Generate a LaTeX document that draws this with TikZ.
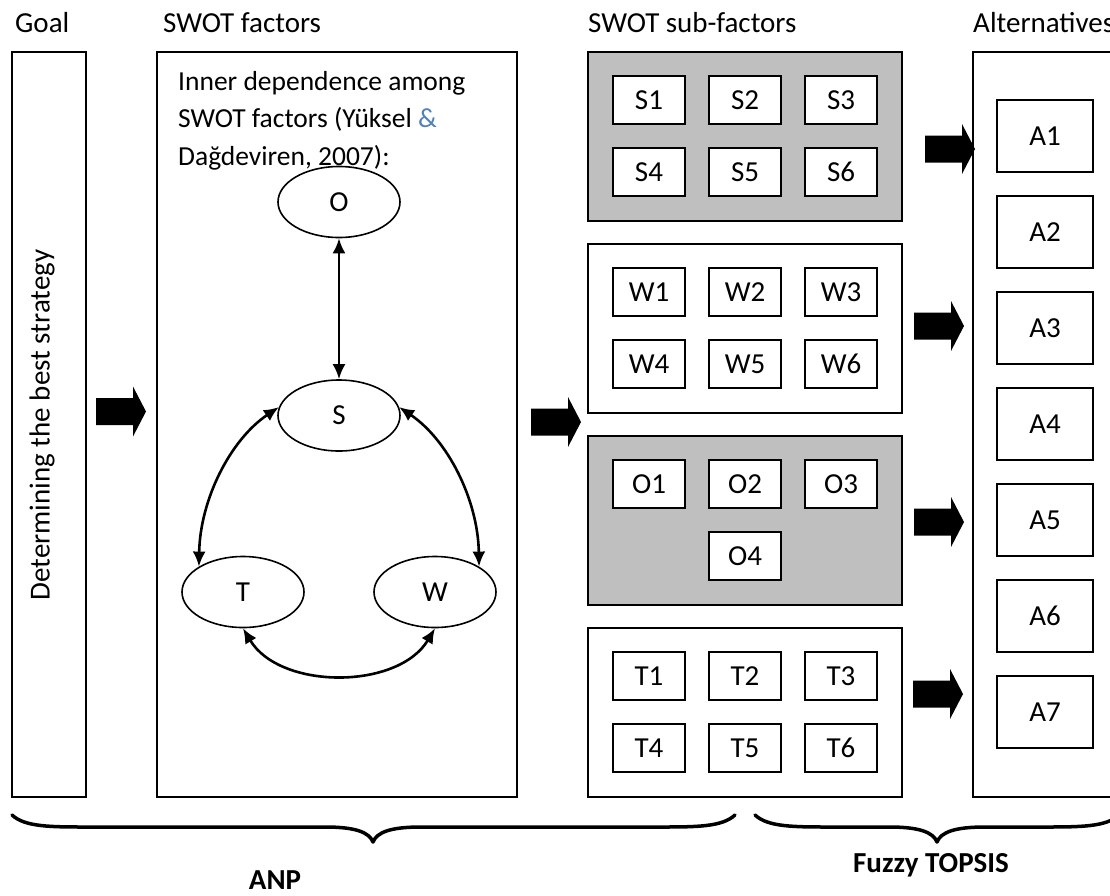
\documentclass[tikz,border=0pt]{standalone}
\usepackage{fontspec}
\setmainfont{Carlito}
\usetikzlibrary{arrows.meta,shapes.geometric}
\definecolor{panelgrey}{RGB}{191,191,191}
\definecolor{citeblue}{RGB}{79,129,189}

\tikzset{
  blockarrow/.pic={\fill (0,-13.5) -- (37,-13.5) -- (37,-25) -- (50,0) -- (37,25) -- (37,13.5) -- (0,13.5) -- cycle;}
}

\begin{document}
\begin{tikzpicture}[x=1pt,y=-1pt,
  every node/.style={font=\fontsize{29}{37.5}\selectfont, inner sep=0pt},
  frame/.style={draw, line width=1.5pt, minimum height=745pt},
  panel/.style={draw, line width=1.5pt, minimum width=314pt, minimum height=169pt},
  item/.style={draw, fill=white, line width=1.5pt, minimum width=72pt, minimum height=48pt},
  altbox/.style={draw, fill=white, line width=1.5pt, minimum width=96pt, minimum height=72pt},
  factor/.style={draw, ellipse, line width=1.6pt, minimum width=122pt, minimum height=71pt},
  link/.style={line width=2.6pt, {Latex[length=15pt,width=13pt]}-{Latex[length=15pt,width=13pt]}},
  heading/.style={anchor=base west},
  brace/.style={line width=3.5pt, line cap=round, line join=round},
  method/.style={font=\fontsize{29}{30}\selectfont\bfseries, anchor=base}
]
\useasboundingbox (0,0) rectangle (1110,895);
\clip (0,0) rectangle (1110,895);

% column headings
\node[heading] (hgoal) at (15,32) {Goal};
\node[heading] (hfactors) at (163,32) {SWOT factors};
\node[heading] (hsub) at (588,32) {SWOT sub-factors};
\node[heading] (halt) at (973,32) {Alternatives};

% goal column
\node[frame, minimum width=74pt] (goal) at (49,424.5) {};
\node[rotate=90] (goaltext) at (42,425) {Determining the best strategy};

% SWOT factors column
\node[frame, minimum width=360pt] (factors) at (337,424.5) {};
\node[anchor=base west, align=left, font=\fontsize{27.5}{37.5}\selectfont] (note) at (178,165)
  {Inner dependence among\\SWOT factors (Yüksel \textcolor{citeblue}{\&}\\Dağdeviren, 2007):};

\node[factor] (O) at (339,202) {O};
\node[factor] (S) at (339,415.5) {S};
\node[factor] (T) at (243,592) {T};
\node[factor] (W) at (435,592) {W};

\draw[link] (O.south) -- (S.north);
\draw[link] (S.172) .. controls (230,440) and (200,500) .. (T.150);
\draw[link] (S.8) .. controls (448,440) and (478,500) .. (W.30);
\draw[link] (T.270) .. controls (280,690) and (398,690) .. (W.270);

% SWOT sub-factor panels
\node[panel, fill=panelgrey] (gS) at (745,136.5) {};
\node[panel, fill=white] (gW) at (745,328.5) {};
\node[panel, fill=panelgrey] (gO) at (745,520.5) {};
\node[panel, fill=white] (gT) at (745,712.5) {};

\foreach \k/\x/\y in {1/649/100,2/745/100,3/841/100,4/649/172,5/745/172,6/841/172}
  \node[item] (S\k) at (\x,\y) {S\k};
\foreach \k/\x/\y in {1/649/292,2/745/292,3/841/292,4/649/364,5/745/364,6/841/364}
  \node[item] (W\k) at (\x,\y) {W\k};
\foreach \k/\x/\y in {1/649/484,2/745/484,3/841/484,4/745/556}
  \node[item] (O\k) at (\x,\y) {O\k};
\foreach \k/\x/\y in {1/649/676,2/745/676,3/841/676,4/649/748,5/745/748,6/841/748}
  \node[item] (T\k) at (\x,\y) {T\k};

% alternatives column
\node[frame, minimum width=152pt] (alts) at (1049,424.5) {};
\foreach \k/\y in {1/136,2/232,3/328,4/424,5/520,6/616,7/712}
  \node[altbox] (A\k) at (1045,\y) {A\k};

% flow arrows
\pic at (96,411.5) {blockarrow};
\pic at (531,422) {blockarrow};
\pic at (925,149) {blockarrow};
\pic at (914,326) {blockarrow};
\pic at (914,522) {blockarrow};
\pic at (913,694) {blockarrow};

% method braces
\draw[brace] (12,815) .. controls (25,827) and (50,827) .. (90,827) -- (325,827)
  .. controls (355,827) and (369,832) .. (373,842)
  .. controls (377,832) and (391,827) .. (421,827) -- (657,827)
  .. controls (697,827) and (722,827) .. (735,815);
\draw[brace] (755,815) .. controls (768,827) and (793,827) .. (833,827) -- (889,827)
  .. controls (919,827) and (933,832) .. (937,842)
  .. controls (941,832) and (955,827) .. (985,827) -- (1041,827)
  .. controls (1081,827) and (1106,827) .. (1119,815);

\node[method] (anp) at (275,889) {ANP};
\node[method] (topsis) at (931,872) {Fuzzy TOPSIS};
\end{tikzpicture}
\end{document}
